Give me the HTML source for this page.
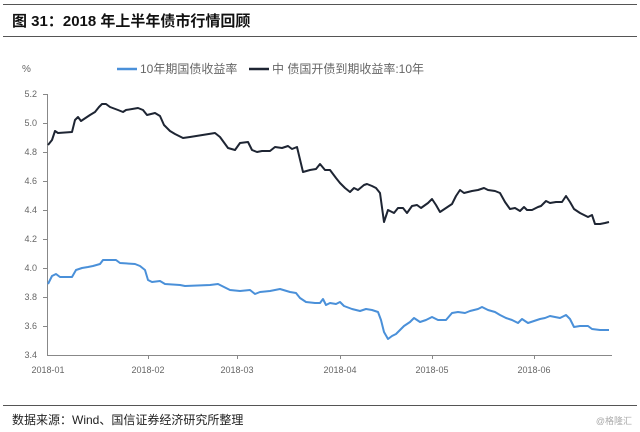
<!DOCTYPE html>
<html><head><meta charset="utf-8"><style>
body{margin:0;width:640px;height:432px;background:#fff;overflow:hidden;font-family:"Liberation Sans","Noto Sans CJK SC",sans-serif;}
</style></head><body>
<svg width="640" height="432" xmlns="http://www.w3.org/2000/svg" style="position:absolute;left:0;top:0">
<line x1="3" y1="4.5" x2="637" y2="4.5" stroke="#555" stroke-width="1"/>
<line x1="3" y1="36.5" x2="637" y2="36.5" stroke="#555" stroke-width="1"/>
<text x="12" y="26" font-size="15" font-weight="bold" fill="#111" font-family="Liberation Sans,Noto Sans CJK SC,sans-serif">图 31：2018 年上半年债市行情回顾</text>
<text x="22" y="72" font-size="10" fill="#666">%</text>
<line x1="117" y1="69" x2="137" y2="69" stroke="#4a90d9" stroke-width="2.5"/>
<text x="140" y="73" font-size="12" fill="#666" font-family="Liberation Sans,Noto Sans CJK SC,sans-serif">10年期国债收益率</text>
<line x1="249" y1="69" x2="269" y2="69" stroke="#1e2533" stroke-width="2.5"/>
<text x="272" y="73" font-size="12" fill="#666" font-family="Liberation Sans,Noto Sans CJK SC,sans-serif">中 债国开债到期收益率:10年</text>
<g font-size="9" fill="#666" text-anchor="end">
<text x="37" y="97">5.2</text><text x="37" y="126">5.0</text><text x="37" y="155">4.8</text><text x="37" y="184">4.6</text><text x="37" y="213">4.4</text><text x="37" y="242">4.2</text><text x="37" y="271">4.0</text><text x="37" y="300">3.8</text><text x="37" y="329">3.6</text><text x="37" y="358">3.4</text>
</g>
<g stroke="#888" stroke-width="1">
<line x1="47.5" y1="94" x2="47.5" y2="355"/>
<line x1="47" y1="355.5" x2="612" y2="355.5"/>
<line x1="43" y1="94.5" x2="47" y2="94.5"/><line x1="43" y1="123.5" x2="47" y2="123.5"/><line x1="43" y1="152.5" x2="47" y2="152.5"/><line x1="43" y1="181.5" x2="47" y2="181.5"/><line x1="43" y1="210.5" x2="47" y2="210.5"/><line x1="43" y1="239.5" x2="47" y2="239.5"/><line x1="43" y1="268.5" x2="47" y2="268.5"/><line x1="43" y1="297.5" x2="47" y2="297.5"/><line x1="43" y1="326.5" x2="47" y2="326.5"/>
<line x1="148.5" y1="355" x2="148.5" y2="359"/><line x1="237.5" y1="355" x2="237.5" y2="359"/><line x1="340.5" y1="355" x2="340.5" y2="359"/><line x1="432.5" y1="355" x2="432.5" y2="359"/><line x1="534.5" y1="355" x2="534.5" y2="359"/>
</g>
<g font-size="9" fill="#666" text-anchor="middle">
<text x="48" y="373">2018-01</text><text x="148" y="373">2018-02</text><text x="237" y="373">2018-03</text><text x="340" y="373">2018-04</text><text x="432" y="373">2018-05</text><text x="534" y="373">2018-06</text>
</g>
<polyline fill="none" stroke="#1e2533" stroke-width="2" stroke-linejoin="round" points="48,145 52,140 55,131 58,133 72,132 75,120 78,117 81,121 90,115 95,112 99,107 102,104 106,104 110,107 118,110 123,112 126,110 138,108 143,110 147,115 155,113 160,116 164,125 170,131 175,134 183,138 190,137 215,133 220,137 228,148 235,150 240,143 248,142 252,150 257,152 262,151 270,151 275,147 282,148 288,146 292,149 297,147 303,172 310,170 316,169 320,164 325,170 330,170 336,178 340,183 345,188 350,192 354,188 358,190 364,185 367,184 372,186 376,188 380,193 384,222 388,210 394,213 398,208 403,208 407,213 412,206 417,205 421,208 428,203 432,199 436,205 440,212 446,208 452,204 456,196 460,190 464,193 472,191 478,190 484,188 488,190 495,191 500,193 505,202 510,209 515,208 520,211 524,207 527,210 532,210 538,207 541,206 546,201 550,203 556,202 562,202 566,196 570,202 574,209 580,213 588,217 592,215 595,224 600,224 605,223 609,222"/>
<polyline fill="none" stroke="#4a90d9" stroke-width="2" stroke-linejoin="round" points="48,284 52,276 56,274 60,277 72,277 76,270 82,268 88,267 93,266 100,264 103,260 116,260 120,263 135,264 140,266 145,270 148,280 152,282 160,281 165,284 180,285 185,286 210,285 218,284 224,287 230,290 240,291 250,290 255,294 260,292 270,291 280,289 290,292 296,293 300,298 306,302 315,303 320,303 323,299 326,305 330,303 336,304 340,302 344,306 352,309 360,311 366,309 372,310 378,312 381,320 384,332 388,339 392,336 396,334 400,330 404,326 410,322 414,318 420,322 426,320 432,317 438,320 446,320 452,313 458,312 465,313 470,311 478,309 482,307 488,310 495,312 500,315 506,318 512,320 518,323 522,319 528,323 534,321 540,319 545,318 550,316 555,317 560,318 566,315 570,319 574,327 580,326 588,326 592,329 600,330 609,330"/>
<line x1="3" y1="405.5" x2="637" y2="405.5" stroke="#555" stroke-width="1"/>
<text x="12" y="424" font-size="12" fill="#222" font-family="Liberation Sans,Noto Sans CJK SC,sans-serif">数据来源：Wind、国信证券经济研究所整理</text>
<text x="632" y="424" font-size="9" fill="#aaa" text-anchor="end" font-family="Liberation Sans,Noto Sans CJK SC,sans-serif">@格隆汇</text>
</svg>
</body></html>
